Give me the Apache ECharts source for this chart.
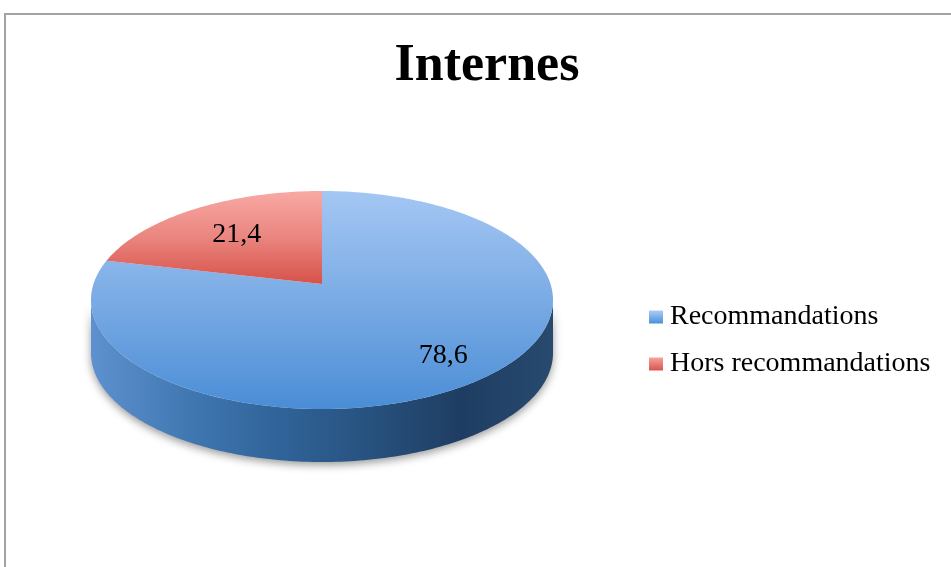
<!DOCTYPE html>
<html>
<head>
<meta charset="utf-8">
<script src="https://cdn.jsdelivr.net/npm/echarts@6/dist/echarts.min.js"></script>
<style>
html,body{margin:0;padding:0;background:#fff;}
#chart{width:951px;height:567px;}
</style>
</head>
<body>
<div id="chart"></div>
<script>
// data
const categories = ['Recommandations', 'Hors recommandations'];
const values = [78.6, 21.4];
const valueLabels = ['78,6', '21,4'];

// colours: top face (vertical gradient), side wall (horizontal), legend icon
const topColors = [['#a4c7f4', '#7aabe4', '#4a8dd6'], ['#f8a9a4', '#ea857f', '#d65249']];
const sideColors = [['#5d91cf', '#4279b3', '#30649a', '#27527f', '#1f3d62', '#284a6f'], ['#d0605a', '#b44842', '#9c3a35', '#7e2c28', '#8a332e']];
const iconColors = [['#aacdf6', '#4d8fd8'], ['#f7a39d', '#d9534c']];

// perspective disc: centre, half axes, perspective factor, thickness
const cx = 322, cy = 284, kx = 228.5, ky = 106.65, persp = 0.1468, depth = 53;
const total = values.reduce((a, b) => a + b, 0);

function proj(a, f) {
  // a = angle clockwise from 12 o'clock, f = fraction of radius
  const X = Math.sin(a) * f, Z = Math.cos(a) * f;
  const w = 1 + persp * Z;
  return [cx + kx * X / w, cy - ky * Z / w];
}
function startAngle(i) {
  let s = 0;
  for (let j = 0; j < i; j++) s += values[j];
  return s / total * Math.PI * 2;
}
function arc(a0, a1, dy) {
  const pts = [];
  const n = Math.max(2, Math.ceil((a1 - a0) / (Math.PI / 180)));
  for (let i = 0; i <= n; i++) {
    const p = proj(a0 + (a1 - a0) * i / n, 1);
    pts.push([p[0], p[1] + dy]);
  }
  return pts;
}
function grad(cols, horizontal) {
  return new echarts.graphic.LinearGradient(0, 0, horizontal ? 1 : 0, horizontal ? 0 : 1,
    cols.map((c, i) => ({ offset: i / (cols.length - 1), color: c })));
}

const chart = echarts.init(document.getElementById('chart'));

chart.setOption({
  backgroundColor: '#fff',
  animation: false,
  title: {
    text: 'Internes',
    left: 482,
    textAlign: 'center',
    top: 36,
    textStyle: { fontFamily: 'Liberation Serif', fontWeight: 'bold', fontSize: 52, color: '#000' }
  },
  legend: {
    orient: 'vertical',
    left: 644,
    top: 297,
    icon: 'rect',
    itemWidth: 14,
    itemHeight: 13,
    itemGap: 17,
    selectedMode: false,
    textStyle: { fontFamily: 'Liberation Serif', fontSize: 28, color: '#000', lineHeight: 30, padding: [0, 0, 0, 2] },
    data: categories
  },
  graphic: [{
    type: 'rect',
    shape: { x: 5, y: 14, width: 1000, height: 600 },
    style: { fill: 'none', stroke: '#a3a3a3', lineWidth: 2 },
    silent: true
  }],
  series: [
    {
      // side wall of the disc (only the front half is visible)
      type: 'custom',
      coordinateSystem: 'none',
      z: 1,
      silent: true,
      data: values,
      renderItem(params, api) {
        const i = params.dataIndex;
        const a0 = startAngle(i), a1 = a0 + api.value(0) / total * Math.PI * 2;
        const lo = Math.acos(-persp), hi = Math.PI * 2 - lo;
        const s = Math.max(a0, lo), e = Math.min(a1, hi);
        if (e <= s) return { type: 'group', children: [] };
        const pts = arc(s, e, 0).concat(arc(s, e, depth).reverse());
        return {
          type: 'polygon',
          shape: { points: pts },
          style: {
            fill: grad(sideColors[i], true),
            shadowBlur: 9,
            shadowColor: 'rgba(0,0,0,0.4)',
            shadowOffsetY: 3
          }
        };
      }
    },
    {
      // top face of each slice + value label
      type: 'custom',
      coordinateSystem: 'none',
      z: 2,
      silent: true,
      data: values,
      renderItem(params, api) {
        const i = params.dataIndex;
        const a0 = startAngle(i), a1 = a0 + api.value(0) / total * Math.PI * 2;
        const pts = [[cx, cy]].concat(arc(a0, a1, 0));
        const lp = proj((a0 + a1) / 2, 0.72);
        return {
          type: 'group',
          children: [
            { type: 'polygon', shape: { points: pts }, style: { fill: grad(topColors[i], false) } },
            {
              type: 'text',
              x: lp[0] + 9.5,
              y: lp[1] + 6,
              style: {
                text: valueLabels[i],
                fill: '#000',
                fontFamily: 'Liberation Serif',
                fontSize: 28,
                align: 'center',
                verticalAlign: 'middle',
                textAlign: 'center',
                textVerticalAlign: 'middle'
              }
            }
          ]
        };
      }
    },
    {
      // no visible marks: gives the legend its per-category entries
      type: 'pie',
      radius: [0, 0],
      center: [cx, cy],
      silent: true,
      label: { show: false },
      labelLine: { show: false },
      data: categories.map((n, i) => ({
        name: n,
        value: values[i],
        itemStyle: { color: grad(iconColors[i], false) }
      }))
    }
  ]
});
</script>
</body>
</html>
